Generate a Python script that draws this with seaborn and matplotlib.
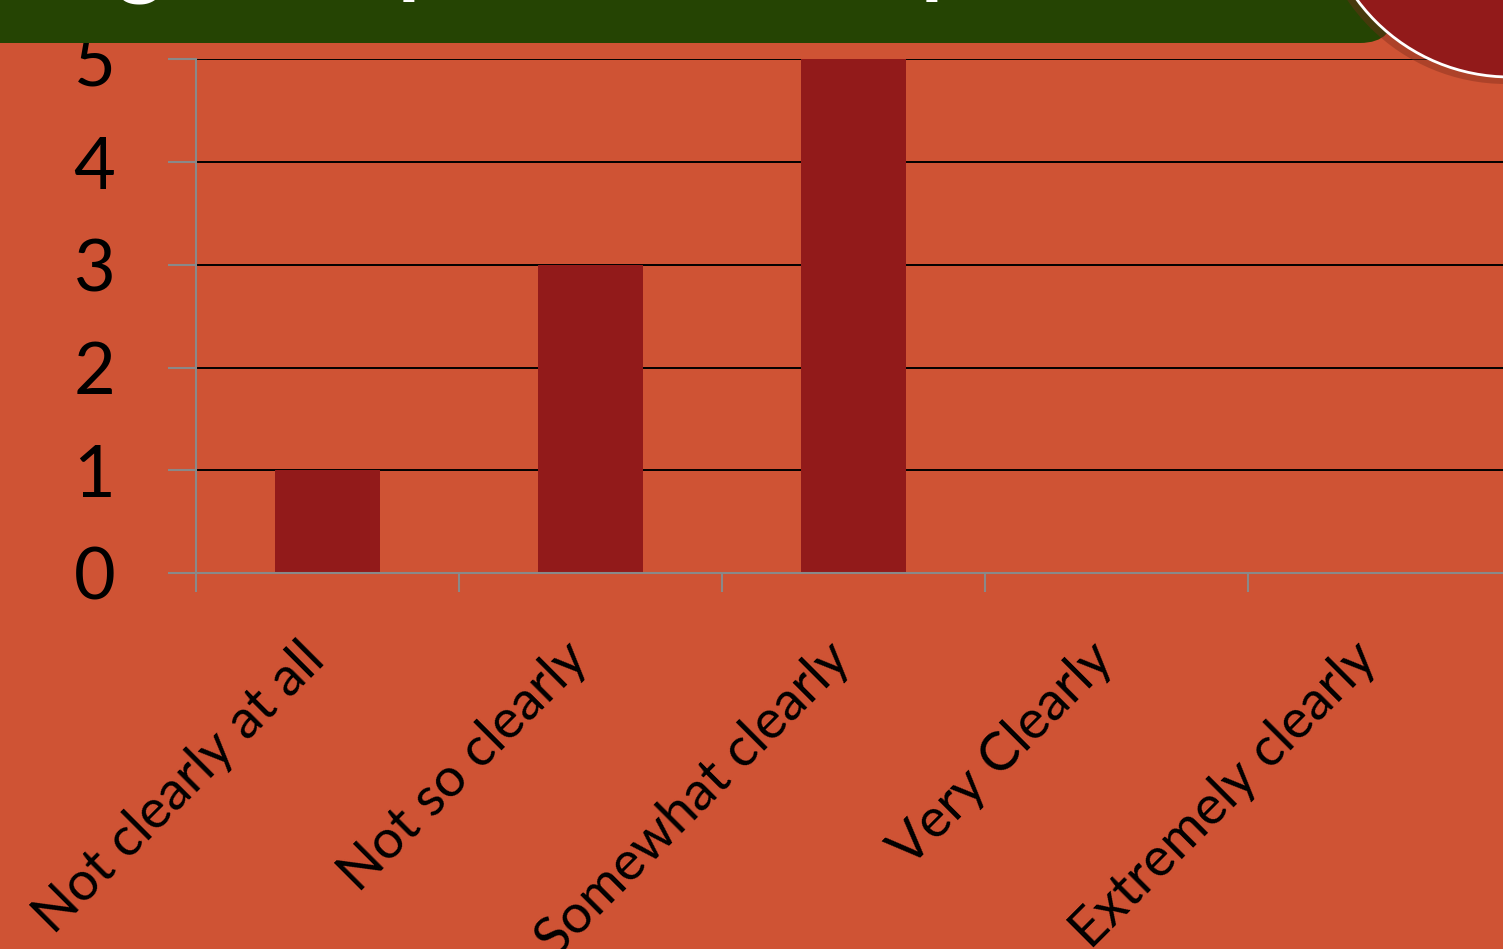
import numpy as np
import pandas as pd
import seaborn as sns
import matplotlib.pyplot as plt
from matplotlib.patches import FancyBboxPatch, Circle
from matplotlib.transforms import IdentityTransform

# Datos
categories = ["Not clearly at all", "Not so clearly", "Somewhat clearly", "Very Clearly", "Extremely clearly"]
counts = [1, 3, 5, 0, 0]
y_ticks = [0, 1, 2, 3, 4, 5]

bg = "#CF5334"
bar_color = "#921A1A"
banner_color = "#254403"
axis_gray = "#898989"

sns.set_style("white", {"axes.facecolor": bg, "figure.facecolor": bg,
                        "text.color": "black", "xtick.color": "black", "ytick.color": "black"})
plt.rcParams['font.family'] = ['Lato', 'DejaVu Sans']

df = pd.DataFrame({"cat": categories, "n": counts})

fig = plt.figure(figsize=(15.03, 9.49), dpi=100)
ax = fig.add_axes([196 / 1503, 1 - 573 / 949, 5 * 263 / 1503, (573 - 59) / 949])

sns.barplot(data=df, x="cat", y="n", color=bar_color, saturation=1, width=0.4,
            edgecolor="none", linewidth=0, ax=ax, zorder=3)

ax.set_xlim(-0.5, 4.5)
ax.set_ylim(0, 5.004)
ax.set_xlabel("")
ax.set_ylabel("")

# Grid
ax.set_yticks(y_ticks)
ax.set_yticklabels([str(t) for t in y_ticks], fontsize=52, color="black")
ax.yaxis.grid(True, color="black", linewidth=1.4, zorder=1)
ax.set_axisbelow(True)
ax.tick_params(axis="y", length=20, width=1.5, color=axis_gray, pad=38, left=True)

# Eje x: etiquetas en el centro, marcas en los bordes
ax.set_xticks(range(len(categories)))
ax.set_xticklabels(categories, fontsize=39, rotation=45, ha="right", va="baseline",
                   rotation_mode="anchor", color="black")
ax.tick_params(axis="x", which="major", length=0, pad=64)
ax.set_xticks(np.arange(-0.5, len(categories), 1), minor=True)
ax.tick_params(axis="x", which="minor", length=14, width=1.5, color=axis_gray, bottom=True)

for s in ["top", "right"]:
    ax.spines[s].set_visible(False)
for s in ["left", "bottom"]:
    ax.spines[s].set_color(axis_gray)
    ax.spines[s].set_linewidth(1.5)
    ax.spines[s].set_zorder(4)

# Banner superior (titulo cortado por el borde)
banner = FancyBboxPatch((-100, 906), 1495, 200, boxstyle="round,pad=0,rounding_size=35",
                        transform=IdentityTransform(), facecolor=banner_color,
                        edgecolor="none", zorder=5)
fig.add_artist(banner)
for ch, x in [("g", 117), ("p", 398), ("p", 921)]:
    fig.text(x, 962, ch, transform=IdentityTransform(), fontsize=64, fontweight="bold",
             color="white", ha="left", va="baseline", zorder=6)

# Circulo arriba a la derecha
shadow = Circle((1506, 1057), 192, transform=IdentityTransform(), facecolor="#7a2a1a",
                edgecolor="none", alpha=0.4, zorder=6)
fig.add_artist(shadow)
circ = Circle((1510, 1062), 190, transform=IdentityTransform(), facecolor=bar_color,
              edgecolor="white", linewidth=2, zorder=7)
fig.add_artist(circ)

plt.savefig("out.png", dpi=100, facecolor=bg)
plt.close()
